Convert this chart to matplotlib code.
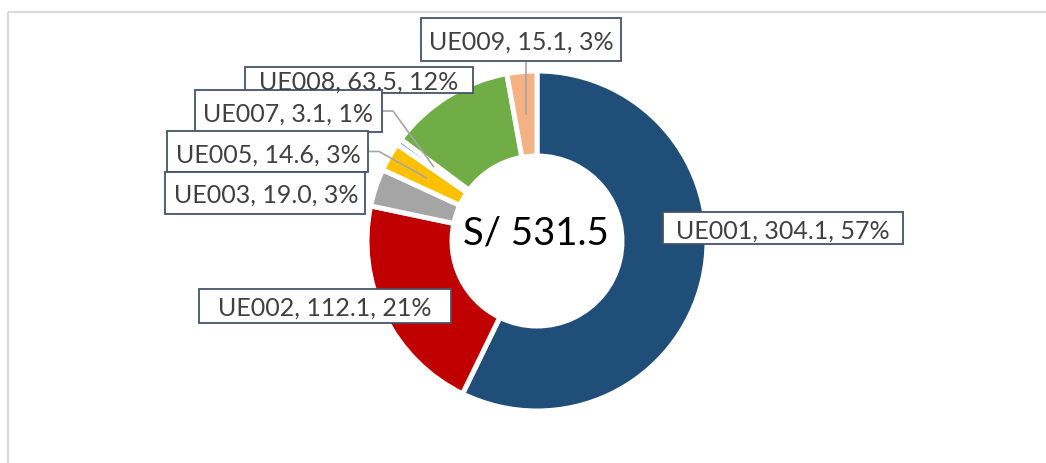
import numpy as np
import matplotlib.pyplot as plt
from matplotlib.patches import Rectangle

plt.rcParams['font.family'] = ['Lato', 'DejaVu Sans']

# data
units = ['UE001', 'UE002', 'UE003', 'UE005', 'UE007', 'UE008', 'UE009']
values = [304.1, 112.1, 19.0, 14.6, 3.1, 63.5, 15.1]
pcts = [57, 21, 3, 3, 1, 12, 3]
colors = ['#1F4E79', '#C00000', '#A5A5A5', '#FFC000', '#5B9BD5', '#70AD47', '#F4B183']

W, H = 1046, 464
cx, cy, R = 537, 242, 170  # donut centre / radius in pixels (y from top)

# label boxes (x0, y0, x1, y1) and text anchor (x, baseline), pixels from top-left
boxes = {
    'UE001': ((663, 213, 903, 245), (783, 239)),
    'UE002': ((199, 290, 451, 324), (325, 316)),
    'UE003': ((165, 173, 365, 215), (266, 203)),
    'UE005': ((167, 132, 368, 173), (268, 163)),
    'UE007': ((195, 91, 382, 133), (288, 122)),
    'UE008': ((245, 68, 473, 94), (359, 90)),
    'UE009': ((421, 19, 621, 62), (521, 50)),
}
draw_order = ['UE001', 'UE002', 'UE009', 'UE008', 'UE007', 'UE005', 'UE003']

fig = plt.figure(figsize=(W / 100, H / 100), dpi=100)

# donut
ax = fig.add_axes([(cx - R) / W, (H - cy - R) / H, 2 * R / W, 2 * R / H])
ax.pie(values, colors=colors, startangle=90, counterclock=False, radius=1,
       wedgeprops=dict(width=0.5, edgecolor='white', linewidth=3.6))
ax.set_xlim(-1, 1)
ax.set_ylim(-1, 1)
ax.set_aspect('equal')
ax.axis('off')

# overlay in pixel coords
ov = fig.add_axes([0, 0, 1, 1], zorder=5)
ov.set_xlim(0, W)
ov.set_ylim(H, 0)
ov.axis('off')

# chart area border (cropped)
ov.plot([8, W], [13, 13], c='#D9D9D9', lw=1.5, solid_capstyle='butt')
ov.plot([8, 8], [13, H], c='#D9D9D9', lw=1.5, solid_capstyle='butt')

# leader lines to the small slices
cum = np.cumsum(values)
tot = cum[-1]
mid = (cum - np.array(values) / 2) / tot
ang = np.deg2rad(90 - mid * 360)
px = cx + 0.75 * R * np.cos(ang)
py = cy - 0.75 * R * np.sin(ang)
for name in ['UE005', 'UE007']:
    i = units.index(name)
    (x0, y0, x1, y1), _ = boxes[name]
    ym = (y0 + y1) / 2
    ov.plot([x1, x1 + 11, px[i]], [ym, ym, py[i]], c='#A6A6A6', lw=1.2)
i = units.index('UE009')
ov.plot([px[i], px[i]], [boxes['UE009'][0][3], py[i]], c='#A6A6A6', lw=1.2)

for k, name in enumerate(draw_order):
    i = units.index(name)
    (x0, y0, x1, y1), (tx, ty) = boxes[name]
    ov.add_patch(Rectangle((x0, y0), x1 - x0, y1 - y0, facecolor='white',
                           edgecolor='#44546A', lw=1.3, zorder=2 + k))
    # UE008 text sits above the overlapping UE007 box
    tz = 20 if name == 'UE008' else 2.5 + k
    ov.text(tx, ty, f'{name}, {values[i]:.1f}, {pcts[i]}%', ha='center',
            va='baseline', fontsize=18, color='#404040', zorder=tz)

ov.text(536, 245, f'S/ {tot:.1f}', ha='center', va='baseline',
        fontsize=27.5, color='black')

fig.savefig('out.png', dpi=100, facecolor='white')
